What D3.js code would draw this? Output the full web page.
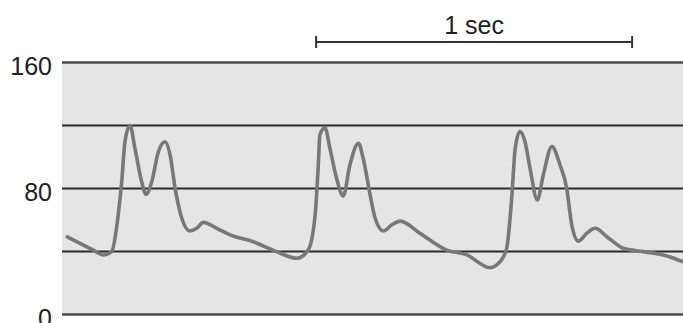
<!DOCTYPE html>
<html>
<head>
<meta charset="utf-8">
<script src="https://cdn.jsdelivr.net/npm/d3@7"></script>
<style>
  html, body { margin: 0; padding: 0; background: #fff; }
  svg { display: block; }
</style>
</head>
<body>
<svg id="chart" width="683" height="323"></svg>
<script>
// time in milliseconds
const timeMs = [17, 99, 131, 157, 178, 189, 199, 215, 231, 252, 266, 284, 305, 326, 342, 358, 379, 405, 426, 447, 490, 532, 605, 679, 743, 779, 801, 811, 816, 832, 848, 869, 890, 911, 938, 953, 975, 991, 1017, 1043, 1070, 1133, 1217, 1281, 1354, 1386, 1407, 1423, 1434, 1449, 1465, 1481, 1504, 1523, 1550, 1576, 1597, 1613, 1634, 1660, 1687, 1724, 1776, 1839, 1903, 1965];
// pressure values
const pressure = [49, 40.6, 37.5, 39.6, 63, 84, 109, 119.6, 105, 84, 76, 84, 103, 109.4, 101, 79.8, 60.8, 52.7, 54.4, 58.2, 54.4, 50.2, 45.9, 39.6, 35.4, 40.6, 62.9, 94.6, 113.7, 118.3, 105, 86, 75, 94.6, 108.4, 98.8, 75.6, 60.8, 52.7, 56.5, 59, 51.2, 40.6, 37.5, 29.4, 33.2, 41.7, 73.5, 105, 115.8, 109.4, 92.5, 72.4, 88.3, 106.3, 94.6, 79.8, 56.5, 46.3, 51.2, 54.4, 49.1, 41.7, 39.6, 37.5, 33.2];
const gridValues = [0, 40, 80, 120, 160];
const tickLabels = [0, 80, 160];
const scaleBarMs = [804, 1804];
const scaleBarLabel = "1 sec";

const svg = d3.select("#chart");
const mLeft = 62, mRight = 683, mTop = 62, mBottom = 314;

const x = d3.scaleLinear().domain([0, 1965]).range([mLeft, mRight]);
const y = d3.scaleLinear().domain([0, 160]).range([mBottom, mTop]);

// background
svg.append("rect")
  .attr("x", mLeft).attr("y", mTop)
  .attr("width", mRight - mLeft).attr("height", mBottom - mTop)
  .attr("fill", "#e5e5e5");

// grid + labels via axis
const axis = d3.axisLeft(y)
  .tickValues(gridValues)
  .tickSizeInner(-(mRight - mLeft))
  .tickSizeOuter(0)
  .tickPadding(10)
  .tickFormat(d => tickLabels.includes(d) ? d : "");

const ag = svg.append("g")
  .attr("transform", `translate(${mLeft},0)`)
  .call(axis);
ag.select(".domain").remove();
ag.selectAll(".tick line")
  .attr("stroke", d => (d === 0 || d === 160) ? "#4a4a4a" : "#2a2a2a")
  .attr("stroke-width", d => (d === 0 || d === 160) ? 2.5 : 2);
ag.selectAll(".tick text")
  .attr("font-family", "'Liberation Sans', Arial, sans-serif")
  .attr("font-size", 25)
  .attr("fill", "#222")
  .attr("dy", "0.5em");

// waveform
const line = d3.line()
  .x((d, i) => x(timeMs[i]))
  .y((d, i) => y(pressure[i]))
  .curve(d3.curveMonotoneX);

svg.append("path")
  .datum(pressure)
  .attr("d", line)
  .attr("fill", "none")
  .attr("stroke", "#787878")
  .attr("stroke-width", 3.6)
  .attr("stroke-linejoin", "round")
  .attr("stroke-linecap", "round");

// scale bar
const sbY = 42;
const sb = svg.append("g").attr("stroke", "#333").attr("stroke-width", 2);
sb.append("line").attr("x1", x(scaleBarMs[0])).attr("x2", x(scaleBarMs[1])).attr("y1", sbY).attr("y2", sbY);
scaleBarMs.forEach(t => {
  sb.append("line").attr("x1", x(t)).attr("x2", x(t)).attr("y1", sbY - 6).attr("y2", sbY + 6);
});
svg.append("text")
  .attr("x", x((scaleBarMs[0] + scaleBarMs[1]) / 2))
  .attr("y", 34)
  .attr("text-anchor", "middle")
  .attr("font-family", "'Liberation Sans', Arial, sans-serif")
  .attr("font-size", 25)
  .attr("fill", "#222")
  .text(scaleBarLabel);
</script>
</body>
</html>
